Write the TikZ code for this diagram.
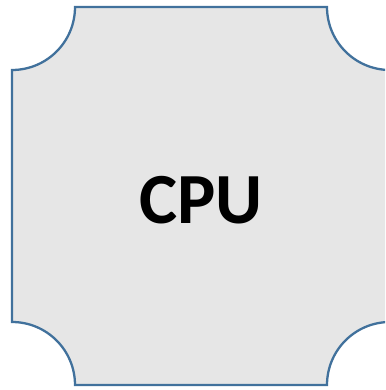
\documentclass[tikz,border=0pt]{standalone}
\usepackage{fontspec}
\setmainfont{Carlito}
\definecolor{chipfill}{HTML}{E6E6E6}
\definecolor{chipedge}{HTML}{41719C}
\begin{document}
\begin{tikzpicture}[x=1pt,y=1pt]
  \useasboundingbox (0,0) rectangle (385,390);
  % chip outline with concave quarter-circle corners
  \begin{scope}
    \clip (0,0) rectangle (385,390);
    \draw[chipedge, fill=chipfill, line width=2.3pt, line join=miter]
      (75,383) -- (327,383)
      arc[start angle=180, end angle=270, radius=63] -- (390,68)
      arc[start angle=90, end angle=180, radius=63] -- (75,5)
      arc[start angle=0, end angle=90, radius=63] -- (12,320)
      arc[start angle=270, end angle=360, radius=63] -- cycle;
  \end{scope}
  \node[font=\bfseries\fontsize{72}{72}\selectfont, text=black] (cpu) at (201,190) {CPU};
\end{tikzpicture}
\end{document}
